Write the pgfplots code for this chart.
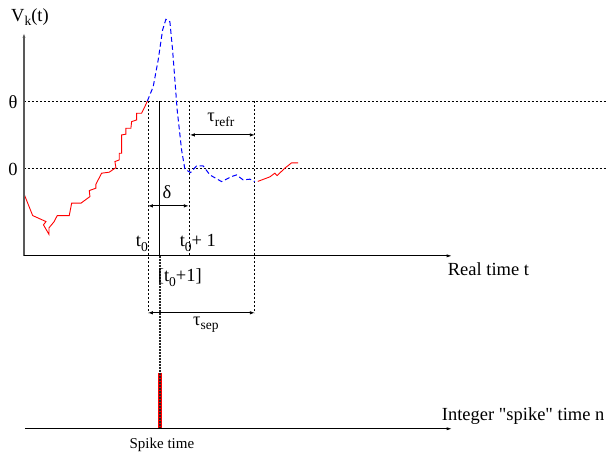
\documentclass[border=0pt]{standalone}
\usepackage{fontspec}
\setmainfont{Liberation Serif}[Ligatures=TeXOff]
\usepackage{pgfplots}
\pgfplotsset{compat=1.18}
\usetikzlibrary{arrows.meta}

% lowered subscript, the way the drawing sets it
\newcommand\sub[1]{\raisebox{-0.55ex}{\fontsize{13.5}{13.5}\selectfont #1}}

\begin{document}
\begin{tikzpicture}[
    lab/.style={font=\fontsize{18.5}{20}\selectfont, inner sep=0pt},
    dim/.style={{Latex[length=5pt,width=3.5pt]}-{Latex[length=5pt,width=3.5pt]}, line width=0.9pt},
    guide/.style={black, line width=0.8pt, dash pattern=on 2pt off 2pt},
]
\begin{axis}[
    width=606pt, height=459pt, scale only axis,
    xmin=0, xmax=606, ymin=0, ymax=459, y dir=reverse,
    hide axis, clip=false,
]
% keep the whole frame as the page
\path (axis cs:0,0) rectangle (axis cs:606,459);

% threshold and rest levels
\draw[guide] (axis cs:24,101) -- (axis cs:606,101);
\draw[guide] (axis cs:24,169) -- (axis cs:606,169);

% vertical guides
\draw[guide] (axis cs:148,101) -- (axis cs:148,313);
\draw[guide] (axis cs:190,101) -- (axis cs:190,256);
\draw[guide] (axis cs:255,101) -- (axis cs:255,313);

% potential before the spike
\addplot[red, line width=0.9pt] coordinates {
    (24,194) (32.7,215.7) (46,221.7) (43.5,225) (49,234.5) (49,228)
    (54,222) (57.3,215.7) (69.3,215.7) (71.7,203.3) (81,203.3) (90,196.7)
    (89.3,190.7) (96,188.3) (96,184.3) (101.7,173.3) (109.3,172.3)
    (116,167.7) (115,161.7) (119.3,160) (119.3,153.3) (121.7,153.3)
    (121.7,135) (126,134.3) (126,128.3) (131,128.3) (131.7,121.7)
    (136.7,120) (136.7,113.3) (141.7,113.3) (145,106.7) (147.5,101)
};
% spike and refractory period
\addplot[blue, line width=1pt, dash pattern=on 5pt off 3pt] coordinates {
    (147.5,101) (153.3,86.7) (158.3,60) (162.7,30) (166,19.3) (170,21.7)
    (172.7,50) (177.3,110) (181.7,150) (185,169.3) (190.7,172.7)
    (196.7,166) (203.3,166) (210,175) (221.7,181.7) (231.7,176.7)
    (236.7,175) (243.3,180) (250,179.3) (255,181.7)
};
% potential after
\addplot[red, line width=0.9pt] coordinates {
    (258,181.5) (270,177) (275,173.3) (277.3,175.7) (285,168.3)
    (291.7,163) (298.3,163)
};

% spike on the integer axis
\addplot[red, line width=4pt] coordinates {(160,373) (160,429)};
\draw[black, line width=1.1pt] (axis cs:160,101) -- (axis cs:160,256);
\draw[black!85, line width=1.5pt, dash pattern=on 2pt off 1pt] (axis cs:160,256) -- (axis cs:160,429);

% axes
\draw[gray!70!black, line width=1.2pt, -{Latex[length=6pt,width=3pt]}] (axis cs:24,256) -- (axis cs:24,32);
\draw[black, line width=1.1pt, -{Latex[length=6pt,width=3pt]}] (axis cs:24,256) -- (axis cs:453,256);
\draw[black, line width=1.1pt, -{Latex[length=6pt,width=3pt]}] (axis cs:25,429) -- (axis cs:453,429);

% dimension arrows
\draw[dim] (axis cs:148,206) -- (axis cs:189,206);
\draw[dim] (axis cs:190,135) -- (axis cs:255,135);
\draw[dim] (axis cs:148,313) -- (axis cs:255,313);

% labels
\node[lab] at (axis cs:30,17) {V\sub{k}(t)};
\node[lab] at (axis cs:13,102) {θ};
\node[lab] at (axis cs:13,170) {0};
\node[lab] at (axis cs:142,244) {t\sub{0}};
\node[lab] at (axis cs:198,243) {t\sub{0}+ 1};
\node[lab] at (axis cs:167,192) {δ};
\node[lab] at (axis cs:221,120) {τ\sub{refr}};
\node[lab] at (axis cs:180,278) {[t\sub{0}+1]};
\node[lab] at (axis cs:206,325) {τ\sub{sep}};
\node[lab, anchor=west] at (axis cs:448,269) {Real time t};
\node[lab, anchor=west] at (axis cs:442,416) {Integer "spike" time n};
\node[lab, font=\fontsize{15}{16}\selectfont] at (axis cs:162,445) {Spike time};
\end{axis}
\end{tikzpicture}
\end{document}
